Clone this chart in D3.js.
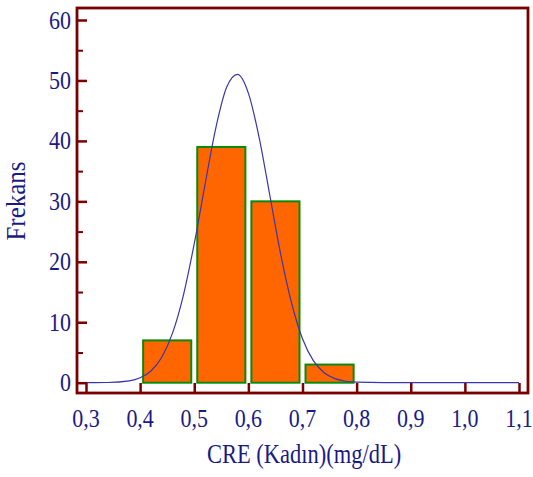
<!DOCTYPE html>
<html><head><meta charset="utf-8">
<script src="https://cdn.jsdelivr.net/npm/d3@7"></script>
<style>body{margin:0;background:#fff}svg{display:block}text{font-family:"Liberation Serif","Times New Roman",serif;fill:#1a1a86}</style>
</head><body>
<script>
const binStarts = [0.4, 0.5, 0.6, 0.7];
const binEnds = [0.5, 0.6, 0.7, 0.8];
const frequencies = [7, 39, 30, 3];
const curveX = [0.30,0.34,0.38,0.40,0.42,0.44,0.46,0.48,0.50,0.52,0.54,0.56,0.58,0.60,0.62,0.64,0.66,0.68,0.70,0.72,0.74,0.76,0.78,0.80,0.85,0.90,1.00,1.10];
const curveY = [0.0,0.03,0.30,0.81,1.94,4.22,8.24,14.5,23.0,32.8,42.2,48.9,51.0,47.9,40.5,30.8,21.1,13.1,7.26,3.64,1.64,0.67,0.24,0.08,0.0,0.0,0.0,0.0];
const xTicks = [0.3,0.4,0.5,0.6,0.7,0.8,0.9,1.0,1.1];
const xTickLabels = ["0,3","0,4","0,5","0,6","0,7","0,8","0,9","1,0","1,1"];
const yTicks = [0,10,20,30,40,50,60];
const yMinor = [5,15,25,35,45,55];
const xTitle = "CRE (Kadın)(mg/dL)";
const yTitle = "Frekans";

const W=533,H=477;
const svg=d3.select("body").append("svg").attr("width",W).attr("height",H);
const x=d3.scaleLinear().domain([0.3,1.1]).range([86,519]);
const y=d3.scaleLinear().domain([0,60]).range([382.7,20]);
const frameC="#7a0000";
const L=77,T=8,R=528,B=393;
const SY=1.18;

// bars
const gap=3;
svg.append("g").selectAll("rect").data(frequencies).join("rect")
  .attr("x",(d,i)=>x(binStarts[i])+gap)
  .attr("width",(d,i)=>x(binEnds[i])-x(binStarts[i])-2*gap)
  .attr("y",d=>y(d)).attr("height",d=>y(0)-y(d))
  .attr("fill","#ff6600").attr("stroke","#0a8a0a").attr("stroke-width",2);

// curve
const line=d3.line().x((d,i)=>x(curveX[i])).y(d=>y(d)).curve(d3.curveMonotoneX);
svg.append("path").attr("d",line(curveY)).attr("fill","none").attr("stroke","#3838a8").attr("stroke-width",1.2);

// frame
svg.append("rect").attr("x",L).attr("y",T).attr("width",R-L).attr("height",B-T)
  .attr("fill","none").attr("stroke",frameC).attr("stroke-width",2.8);

// y ticks
const yAxis=d3.axisRight(y).tickValues(yTicks).tickSize(10).tickFormat("");
const gy=svg.append("g").attr("transform",`translate(${L},0)`).call(yAxis);
gy.select(".domain").remove();
gy.selectAll("line").attr("stroke",frameC).attr("stroke-width",2.5);
const yAxisM=d3.axisRight(y).tickValues(yMinor).tickSize(6).tickFormat("");
const gym=svg.append("g").attr("transform",`translate(${L},0)`).call(yAxisM);
gym.select(".domain").remove();
gym.selectAll("line").attr("stroke",frameC).attr("stroke-width",2);
svg.append("g").selectAll("text").data(yTicks).join("text")
  .attr("transform",d=>`translate(71,${y(d)+8.5}) scale(1,${SY})`).attr("text-anchor","end")
  .attr("font-size",22).text(d=>d);

// x ticks
const xAxis=d3.axisTop(x).tickValues(xTicks).tickSize(10).tickFormat("");
const gx=svg.append("g").attr("transform",`translate(0,${B})`).call(xAxis);
gx.select(".domain").remove();
gx.selectAll("line").attr("stroke",frameC).attr("stroke-width",2.5);
svg.append("g").selectAll("text").data(xTicks).join("text")
  .attr("transform",d=>`translate(${x(d)},427) scale(1,${SY})`).attr("text-anchor","middle")
  .attr("font-size",22).text((d,i)=>xTickLabels[i]);

svg.append("text").attr("transform",`translate(304,463) scale(1,${SY})`).attr("text-anchor","middle").attr("font-size",22.5).text(xTitle);
svg.append("text").attr("transform",`translate(25,201) rotate(-90) scale(1,1.1)`).attr("text-anchor","middle").attr("font-size",25).text(yTitle);
</script>
</body></html>
